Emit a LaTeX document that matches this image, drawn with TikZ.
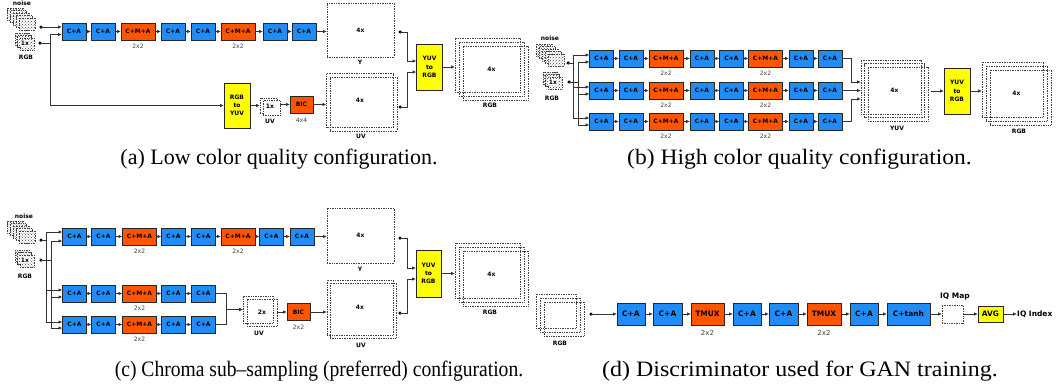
\documentclass[tikz,border=0pt]{standalone}
\usepackage{graphicx}
\usepackage{fontspec}
\setmainfont{Liberation Serif}
\newfontfamily\djv{DejaVu Sans}
\usetikzlibrary{arrows.meta,calc,patterns}
\definecolor{bblue}{RGB}{33,140,245}
\definecolor{borange}{RGB}{255,85,0}
\definecolor{byellow}{RGB}{255,255,0}
\newcommand\bxf{\djv\bfseries\fontsize{6}{8.3}\selectfont}
\newcommand\sbf{\djv\fontsize{6}{7}\selectfont}
\newcommand\dbxf{\djv\bfseries\fontsize{7.5}{9}\selectfont}
\newcommand\dsbf{\djv\fontsize{7}{8}\selectfont}
\newcommand\cpf{\fontsize{22}{26}\selectfont}
\tikzset{
  ln/.style={draw=black!80, line width=0.8pt},
  arr/.style={ln, -{Latex[length=4pt,width=3.5pt]}},
  blk/.style={draw=black!85, line width=0.7pt, minimum height=17pt, inner sep=0pt, outer sep=0pt, font=\bxf, text=black},
  ca/.style={blk, fill=bblue, minimum width=24pt},
  cma/.style={blk, fill=borange, minimum width=34pt},
  ylw/.style={blk, fill=byellow, minimum width=26pt, align=center},
  dblk/.style={blk, minimum height=22pt, font=\dbxf},
  dotbox/.style={draw=black!75, densely dotted, line width=0.7pt, inner sep=0pt, outer sep=0pt, font=\bxf},
  lab/.style={font=\bxf, inner sep=0pt},
  sub/.style={font=\sbf, text=black!75, inner sep=0pt},
  dot/.style={circle, fill=black, inner sep=0pt, minimum size=3.5pt},
  captxt/.style={font=\cpf, inner sep=0pt},
}
\newcommand\noisestk[2]{%
  \foreach \k in {0,...,4}{%
    \fill[white] (#1+3*\k,#2+2.5*\k) rectangle ++(16,12);
    \fill[pattern=crosshatch dots, pattern color=black!75] (#1+3*\k,#2+2.5*\k) rectangle ++(16,12);
    \draw[dotbox] (#1+3*\k,#2+2.5*\k) rectangle ++(16,12);
  }}
\newcommand\rgbstk[2]{%
  \foreach \k in {0,1,2}{%
    \fill[white] (#1+2.5*\k,#2+2.5*\k) rectangle ++(14,12);
    \fill[pattern=crosshatch dots, pattern color=black!75] (#1+2.5*\k,#2+2.5*\k) rectangle ++(14,12);
    \draw[dotbox] (#1+2.5*\k,#2+2.5*\k) rectangle ++(14,12);
  }}
\begin{document}
\begin{tikzpicture}[x=1pt,y=-1pt]
\useasboundingbox (0,0) rectangle (1058,389);

%================ (a) =================
\noisestk{7}{8}
\node[lab] (anl) at (22,3.5) {noise};
\rgbstk{15}{33}
\node[lab, fill=white, inner sep=0.6pt] (ar1x) at (25,43) {1x};
\node[lab] (arl) at (26,57) {RGB};
\node[dot] (an) at (41,27) {};
\node[dot] (ar) at (40,43) {};
\coordinate (aj) at (50,43);
\foreach \n/\x/\s/\t in {1/74/ca/C+A,2/103/ca/C+A,3/138/cma/C+M+A,4/173/ca/C+A,5/203/ca/C+A,6/238/cma/C+M+A,7/275/ca/C+A,8/304/ca/C+A}
  \node[\s] (a\n) at (\x,31.5) {\t};
\foreach \i/\j in {1/2,2/3,3/4,4/5,5/6,6/7,7/8}
  \draw[arr] (a\i) -- (a\j);
\node[sub] (al3) at (138,46) {2x2};
\node[sub] (al6) at (238,46) {2x2};
\draw[arr] (an.center) -- (an.center -| a1.west);
\draw[ln] (ar.center) -- (aj);
\node[ylw, minimum height=45pt] (rgb2yuv) at (237,105.5) {RGB\\to\\YUV};
\draw[arr] (aj) |- ($(a1.west)+(0,3)$);
\draw[arr] (aj) |- (rgb2yuv.west);
\node[dotbox, minimum width=17pt, minimum height=15pt] (auvi1) at (268.5,105.5) {};
\node[dotbox, fill=white, minimum width=17pt, minimum height=15pt] (auvi2) at (271.5,108) {};
\node[lab] (auvi1x) at (270,106.5) {1x};
\node[lab] (auvil) at (270,121) {UV};
\draw[arr] (rgb2yuv.east) -- (rgb2yuv.east -| auvi1.west);
\node[cma, minimum width=23pt] (abic) at (301.5,104.5) {BIC};
\node[sub] (abicl) at (301.5,120) {4x4};
\draw[arr] (auvi2.east |- abic.west) -- (abic.west);
\node[dotbox, minimum width=67pt, minimum height=54pt] (Ya) at (360.5,30) {4x};
\node[lab] (Yal) at (360,62) {Y};
\draw[arr] (a8.east) -- (a8.east -| Ya.west);
\node[dotbox, minimum width=67pt, minimum height=54pt] (UVa2) at (363.5,104) {};
\node[dotbox, minimum width=67pt, minimum height=54pt] (UVa) at (360,100.5) {4x};
\node[lab] (UVal) at (361,136) {UV};
\draw[arr] (abic.east) -- (abic.east -| UVa.west);
\node[dot] (yda) at (400,32) {};
\node[dot] (uvda) at (400,107) {};
\node[ylw, minimum height=46pt] (yuva) at (429.5,67) {YUV\\to\\RGB};
\draw[arr] (yda.center) -- ++(7,0) |- ($(yuva.west)+(0,-6)$);
\draw[arr] (uvda.center) -- ++(7,0) |- ($(yuva.west)+(0,5)$);
\node[dotbox, minimum width=65pt, minimum height=54pt] (rgba1) at (487.5,65) {};
\node[dotbox, minimum width=65pt, minimum height=54pt] (rgba2) at (491.5,69) {4x};
\node[dotbox, minimum width=65pt, minimum height=54pt] (rgba3) at (495.5,73) {};
\node[lab] (rgbal) at (490,105) {RGB};
\draw[arr] (yuva.east) -- (yuva.east -| rgba1.west);
\node[captxt] (capa) at (279,159) {(a) Low color quality configuration.};

%================ (b) =================
\noisestk{536}{44}
\node[lab] (bnl) at (550,38.5) {noise};
\rgbstk{543}{72}
\node[lab, fill=white, inner sep=0.6pt] (br1x) at (553,82) {1x};
\node[lab] (brl) at (552,98) {RGB};
\node[dot] (bn) at (568,63) {};
\node[dot] (br) at (569,82) {};
\coordinate (bnj) at (573,63);
\coordinate (brj) at (578,82);
\foreach \r/\yy in {1/58.5,2/90.5,3/121.5}{
  \foreach \n/\x/\s/\t in {1/601.5/ca/C+A,2/631/ca/C+A,3/666/cma/C+M+A,4/702/ca/C+A,5/731.5/ca/C+A,6/765.5/cma/C+M+A,7/801/ca/C+A,8/830/ca/C+A}
    \node[\s] (b\r\n) at (\x,\yy) {\t};
  \foreach \i/\j in {1/2,2/3,3/4,4/5,5/6,6/7,7/8}
    \draw[arr] (b\r\i) -- (b\r\j);
  \node[sub] (bl\r a) at (666,\yy+14.5) {2x2};
  \node[sub] (bl\r b) at (765.5,\yy+14.5) {2x2};
}
\draw[ln] (bn.center) -- (bnj);
\draw[ln] (br.center) -- (brj);
\draw[arr] (bnj) |- ($(b11.west)+(0,-3.5)$);
\draw[arr] (bnj) |- ($(b21.west)+(0,-3.5)$);
\draw[arr] (bnj) |- ($(b31.west)+(0,-3.5)$);
\draw[arr] (brj) |- ($(b11.west)+(0,3.5)$);
\draw[arr] (brj) |- ($(b21.west)+(0,3.5)$);
\draw[arr] (brj) |- ($(b31.west)+(0,3.5)$);
\node[dotbox, minimum width=60pt, minimum height=54pt] (yuvs1) at (891,87) {};
\node[dotbox, minimum width=60pt, minimum height=54pt] (yuvs2) at (894.5,90.5) {4x};
\node[dotbox, minimum width=60pt, minimum height=54pt] (yuvs3) at (898,94) {};
\node[lab] (yuvsl) at (897,128) {YUV};
\draw[arr] (b18.east) -- ++(9,0) |- ($(yuvs1.west)+(0,-5)$);
\draw[arr] (b28.east) -- (b28.east -| yuvs1.west);
\draw[arr] (b38.east) -- ++(9,0) |- ($(yuvs1.west)+(0,12)$);
\node[ylw, minimum height=46pt] (yuvb) at (957,91) {YUV\\to\\RGB};
\draw[arr] ($(yuvs3.east |- yuvb.west)+(3,0)$) -- (yuvb.west);
\node[dotbox, minimum width=61pt, minimum height=55pt] (rgbb1) at (1012.5,89.5) {};
\node[dotbox, minimum width=61pt, minimum height=55pt] (rgbb2) at (1016.5,93.5) {4x};
\node[dotbox, minimum width=61pt, minimum height=55pt] (rgbb3) at (1020.5,97.5) {};
\node[lab] (rgbbl) at (1019,131) {RGB};
\draw[arr] (yuvb.east) -- (yuvb.east -| rgbb1.west);
\node[captxt] (capb) at (799.5,159) {\scalebox{1.07}[1]{(b) High color quality configuration.}};

%================ (c) =================
\noisestk{7}{221}
\node[lab] (cnl) at (24,216) {noise};
\rgbstk{15}{250}
\node[lab, fill=white, inner sep=0.6pt] (cr1x) at (25,260) {1x};
\node[lab] (crl) at (25,276) {RGB};
\node[dot] (cn) at (41,240) {};
\node[dot] (cr) at (41,260) {};
\coordinate (cnj) at (46,240);
\coordinate (crj) at (51,260);
\foreach \n/\x/\s/\t in {1/74.5/ca/C+A,2/103.5/ca/C+A,3/139.5/cma/C+M+A,4/173.5/ca/C+A,5/203.5/ca/C+A,6/238/cma/C+M+A,7/271.5/ca/C+A,8/302/ca/C+A}
  \node[\s] (c1\n) at (\x,236.5) {\t};
\foreach \i/\j in {1/2,2/3,3/4,4/5,5/6,6/7,7/8}
  \draw[arr] (c1\i) -- (c1\j);
\node[sub] (cl1a) at (139.5,251) {2x2};
\node[sub] (cl1b) at (238,251) {2x2};
\foreach \r/\yy in {2/293.5,3/324.5}{
  \foreach \n/\x/\s/\t in {1/74.5/ca/C+A,2/103.5/ca/C+A,3/139.5/cma/C+M+A,4/173.5/ca/C+A,5/203.5/ca/C+A}
    \node[\s] (c\r\n) at (\x,\yy) {\t};
  \foreach \i/\j in {1/2,2/3,3/4,4/5}
    \draw[arr] (c\r\i) -- (c\r\j);
  \node[sub] (cl\r a) at (139.5,\yy+14.5) {2x2};
}
\draw[ln] (cn.center) -- (cnj);
\draw[ln] (cr.center) -- (crj);
\draw[arr] (cnj) |- ($(c11.west)+(0,-4.5)$);
\draw[arr] (cnj) |- ($(c21.west)+(0,-3.5)$);
\draw[arr] (cnj) |- ($(c31.west)+(0,-2.5)$);
\draw[arr] (crj) |- ($(c11.west)+(0,4.5)$);
\draw[arr] (crj) |- ($(c21.west)+(0,3.5)$);
\draw[arr] (crj) |- ($(c31.west)+(0,3.5)$);
\node[dotbox, minimum width=30pt, minimum height=27pt] (uvc1) at (258,309.5) {};
\node[dotbox, minimum width=30pt, minimum height=27pt] (uvc2) at (262,312.5) {2x};
\node[lab] (uvcl) at (259,333) {UV};
\draw[arr] (c25.east) -- ++(11,0) |- (uvc1.west);
\draw[arr] (c35.east) -- ++(11,0) |- (uvc1.west);
\node[cma, minimum width=23pt] (cbic) at (298.5,312) {BIC};
\node[sub] (cbicl) at (298.5,327.5) {2x2};
\draw[arr] (uvc2.east |- cbic.west) -- (cbic.west);
\node[dotbox, minimum width=67pt, minimum height=55pt] (Yc) at (360.5,235.5) {4x};
\node[lab] (Ycl) at (360,269) {Y};
\draw[arr] (c18.east) -- (c18.east -| Yc.west);
\node[dotbox, minimum width=66pt, minimum height=55pt] (UVc2) at (363,310.5) {};
\node[dotbox, minimum width=66pt, minimum height=55pt] (UVc1) at (360,307.5) {4x};
\node[lab] (UVcl) at (361,345) {UV};
\draw[arr] (cbic.east) -- (cbic.east -| UVc1.west);
\node[dot] (ydc) at (400,238) {};
\node[dot] (uvdc) at (400,313) {};
\node[ylw, minimum width=25pt, minimum height=47pt] (yuvc) at (428.5,273.5) {YUV\\to\\RGB};
\draw[arr] (ydc.center) -- ++(7,0) |- ($(yuvc.west)+(0,-5.5)$);
\draw[arr] (uvdc.center) -- ++(7,0) |- ($(yuvc.west)+(0,5.5)$);
\node[dotbox, minimum width=65pt, minimum height=55pt] (rgbc1) at (487.5,270.5) {};
\node[dotbox, minimum width=65pt, minimum height=55pt] (rgbc2) at (491.5,274.5) {4x};
\node[dotbox, minimum width=65pt, minimum height=55pt] (rgbc3) at (495.5,278.5) {};
\node[lab] (rgbcl) at (490,312) {RGB};
\draw[arr] (yuvc.east) -- (yuvc.east -| rgbc1.west);
\node[captxt] (capc) at (319,371) {\scalebox{0.89}[1]{(c) Chroma sub--sampling (preferred) configuration.}};

%================ (d) =================
\node[dotbox, minimum width=40pt, minimum height=34pt] (rgbd1) at (556,311) {};
\node[dotbox, minimum width=40pt, minimum height=34pt] (rgbd2) at (560,315) {};
\node[dotbox, minimum width=40pt, minimum height=34pt] (rgbd3) at (564,319) {};
\node[lab] (rgbdl) at (560,343) {RGB};
\node[dot] (dd) at (591,314) {};
\foreach \n/\x/\w/\c/\t in {1/631/28/bblue/C+A,2/667.5/29/bblue/C+A,3/707.5/33/borange/TMUX,4/747/28/bblue/C+A,5/783.5/29/bblue/C+A,6/824/34/borange/TMUX,7/864/28/bblue/C+A,8/908.5/43/bblue/C+tanh}
  \node[dblk, fill=\c, minimum width=\w pt] (d\n) at (\x,314) {\t};
\foreach \i/\j in {1/2,2/3,3/4,4/5,5/6,6/7,7/8}
  \draw[arr] (d\i) -- (d\j);
\node[sub, font=\dsbf] (dl3) at (707.5,332.5) {2x2};
\node[sub, font=\dsbf] (dl6) at (824,332.5) {2x2};
\draw[arr] (dd.center) -- (d1.west);
\node[dotbox, minimum width=21pt, minimum height=18pt] (iqm) at (952.5,314) {};
\node[lab, font=\dbxf] (iqml) at (955,296) {IQ Map};
\draw[arr] (d8.east) -- (iqm.west);
\node[blk, fill=byellow, minimum width=25pt, minimum height=16pt, font=\dbxf] (avg) at (990.5,314) {AVG};
\draw[arr] (iqm.east) -- (avg.west);
\node[lab, font=\dbxf, anchor=west] (iqi) at (1017,314) {IQ Index};
\draw[arr] (avg.east) -- (iqi.west);
\node[captxt] (capd) at (800,371) {\scalebox{1.09}[1]{(d) Discriminator used for GAN training.}};
\end{tikzpicture}
\end{document}
